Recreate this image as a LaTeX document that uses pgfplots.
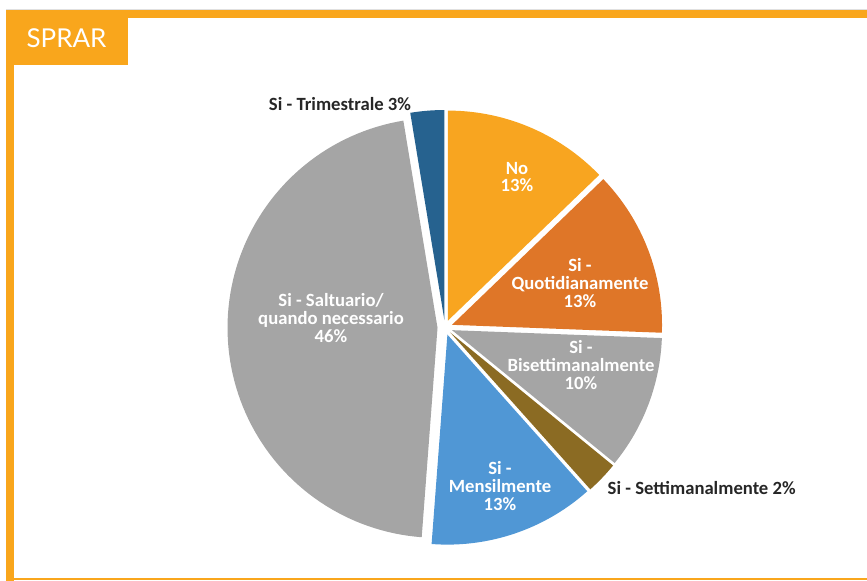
\documentclass[border=0pt]{standalone}
\usepackage{pgfplots}
\pgfplotsset{compat=1.18}
\usepackage{pgfplotstable}
\usepackage{fontspec}
\setmainfont{Carlito}
\newfontfamily\latofont{Lato}
\definecolor{frameor}{HTML}{F9A61C}
\definecolor{c0}{HTML}{F8A520}
\definecolor{c1}{HTML}{DF7628}
\definecolor{c2}{HTML}{A5A5A5}
\definecolor{c3}{HTML}{8B6B23}
\definecolor{c4}{HTML}{5097D5}
\definecolor{c5}{HTML}{A5A5A5}
\definecolor{c6}{HTML}{26628F}
\definecolor{lbl}{HTML}{262626}

\pgfplotstableread{
pct
12.8
12.8
10.3
2.5
12.8
46.2
2.6
}\piedata

\begin{document}
\begin{tikzpicture}
\useasboundingbox (0,0) rectangle (650.25pt,435.75pt);
\begin{axis}[
  scale only axis, width=650.25pt, height=435.75pt,
  xmin=0, xmax=867, ymin=0, ymax=581, y dir=reverse,
  hide axis, clip=false,
]
% frame
\fill[black!12] (axis cs:6,9) rectangle (axis cs:867,10);
\fill[frameor] (axis cs:6,10) rectangle (axis cs:867,18);
\fill[frameor] (axis cs:6,10) rectangle (axis cs:14,581);
\fill[frameor] (axis cs:6,578.3) rectangle (axis cs:867,580.3);
\fill[frameor] (axis cs:6,10) rectangle (axis cs:128,65);
\node[text=white, font=\latofont\fontsize{19.5}{20}\selectfont] at (axis cs:66.5,38.5) {SPRAR};

% pie
\gdef\cum{0}
\pgfplotsforeachungrouped \i in {0,...,6}{%
  \pgfplotstablegetelem{\i}{pct}\of\piedata
  \let\v\pgfplotsretval
  \pgfmathsetmacro\sa{\cum*3.6}%
  \pgfmathsetmacro\cumnew{\cum+\v}%
  \xdef\cum{\cumnew}%
  \pgfmathsetmacro\sb{\cum*3.6}%
  \pgfmathsetmacro\sm{(\sa+\sb)/2}%
  \pgfmathsetmacro\ox{445+7.5*sin(\sm)}%
  \pgfmathsetmacro\oy{327.5-7.5*cos(\sm)}%
  \edef\next{\noexpand\addplot[fill=c\i, draw=none, domain=\sa:\sb, samples=90]
    ({\ox+210*sin(x)},{\oy-210*cos(x)}) -- (axis cs:\ox,\oy) -- cycle;}%
  \next
}

% labels
\begin{scope}[every node/.style={font=\bfseries\fontsize{14}{13.3}\selectfont, align=center}]
\node[text=white] at (axis cs:517,177) {No\\13\%};
\node[text=white] at (axis cs:580,283) {Si -\\Quotidianamente\\13\%};
\node[text=white] at (axis cs:581,365) {Si -\\Bisettimanalmente\\10\%};
\node[text=white] at (axis cs:500,486) {Si -\\Mensilmente\\13\%};
\node[text=white] at (axis cs:331,318) {Si - Saltuario/\\quando necessario\\46\%};
\node[text=lbl, anchor=west] at (axis cs:603,488) {Si - Settimanalmente 2\%};
\node[text=lbl] at (axis cs:340,104) {Si - Trimestrale 3\%};
\end{scope}
\end{axis}
\end{tikzpicture}
\end{document}
